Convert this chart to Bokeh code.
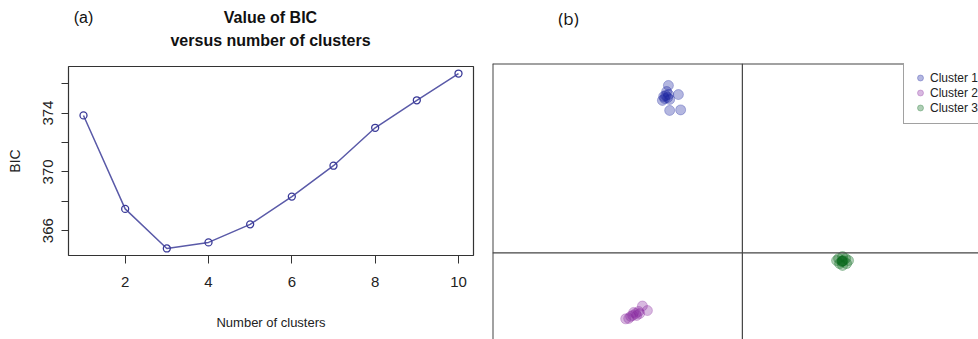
from bokeh.plotting import figure
from bokeh.layouts import row, column
from bokeh.models import (Range1d, FixedTicker, Span, Legend, LegendItem)
from bokeh.core.properties import value
from bokeh.embed import file_html
from bokeh.resources import INLINE

# ---- data ----
n_clusters = [1, 2, 3, 4, 5, 6, 7, 8, 9, 10]
bic = [373.84, 367.48, 364.79, 365.20, 366.43, 368.32, 370.42, 373.00, 374.87, 376.69]
x_ticks = [2, 4, 6, 8, 10]
y_ticks = [366, 368, 370, 372, 374, 376]
y_tick_labels = {366: "366", 368: "", 370: "370", 372: "", 374: "374", 376: ""}

c1_x = [-0.296, -0.256, -0.320, -0.291, -0.247, -0.307, -0.299, -0.311, -0.295, -0.303, -0.315, -0.291]
c1_y = [0.884, 0.836, 0.805, 0.752, 0.755, 0.831, 0.820, 0.815, 0.836, 0.852, 0.826, 0.810]
c2_x = [-0.467, -0.400, -0.380, -0.427, -0.439, -0.415, -0.447, -0.423, -0.435, -0.411, -0.455]
c2_y = [-0.349, -0.281, -0.305, -0.321, -0.331, -0.310, -0.336, -0.331, -0.315, -0.321, -0.347]
c3_x = [0.400, 0.377, 0.425, 0.401, 0.401, 0.385, 0.417, 0.389, 0.413, 0.400, 0.398, 0.404]
c3_y = [-0.044, -0.041, -0.041, -0.020, -0.067, -0.030, -0.057, -0.057, -0.030, -0.044, -0.046, -0.042]
cluster_names = ["Cluster 1", "Cluster 2", "Cluster 3"]
cluster_colors = ["#1A23A0", "#8A2BA0", "#0B6B1E"]

SANS = "Liberation Sans"
W, H = 978, 339
HEAD = 48

# ---- header band (panel letters and title) ----
hd = figure(width=W, height=HEAD, output_backend="svg", toolbar_location=None,
            x_range=Range1d(0, W), y_range=Range1d(HEAD, 0),
            x_axis_location=None, y_axis_location=None,
            min_border=0, min_border_left=0, min_border_right=0,
            min_border_top=0, min_border_bottom=0)
hd.grid.visible = False
hd.outline_line_color = None
hd.text(x=[83], y=[17], text=["(a)"], text_font=value(SANS), text_font_size="16px",
        text_align="center", text_baseline="middle", text_color="#111111")
hd.text(x=[270, 270], y=[17, 40], text=["Value of BIC", "versus number of clusters"],
        text_font=value(SANS), text_font_style="bold", text_font_size="16px",
        text_align="center", text_baseline="middle", text_color="#111111")
hd.text(x=[568], y=[18], text=["(b)"], text_font=value("Open Sans"), text_font_size="17px",
        text_align="center", text_baseline="middle", text_color="#111111")

# ---- panel (a) ----
pa = figure(width=490, height=H - HEAD, output_backend="svg", toolbar_location=None,
            x_range=Range1d(0.64, 10.36), y_range=Range1d(364.31, 377.17),
            min_border_left=68, min_border_right=17, min_border_top=18, min_border_bottom=84)
pa.grid.visible = False
pa.outline_line_color = "#333333"
pa.outline_line_width = 1.2

pa.line(n_clusters, bic, line_color="#5A5AA8", line_width=1.5)
pa.scatter(n_clusters, bic, size=7, marker="circle", fill_color=None,
           line_color="#3A3A98", line_width=1.3)

xa = pa.xaxis[0]
xa.ticker = FixedTicker(ticks=x_ticks)
xa.axis_line_color = None
xa.major_tick_out = 8
xa.major_tick_in = 0
xa.minor_tick_out = 0
xa.major_tick_line_color = "#333333"
xa.major_label_text_font = SANS
xa.major_label_text_font_size = "15px"
xa.major_label_text_color = "#222222"
xa.major_label_standoff = 13
xa.axis_label = "Number of clusters"
xa.axis_label_text_font = SANS
xa.axis_label_text_font_style = "normal"
xa.axis_label_text_font_size = "13px"
xa.axis_label_text_color = "#222222"
xa.axis_label_standoff = 25

ya = pa.yaxis[0]
ya.ticker = FixedTicker(ticks=y_ticks)
ya.major_label_overrides = y_tick_labels
ya.axis_line_color = None
ya.major_tick_out = 7
ya.major_tick_in = 0
ya.minor_tick_out = 0
ya.major_tick_line_color = "#333333"
ya.major_label_orientation = "vertical"
ya.major_label_text_font = SANS
ya.major_label_text_font_size = "15px"
ya.major_label_text_color = "#222222"
ya.major_label_standoff = 8
ya.axis_label = "BIC"
ya.axis_label_text_font = SANS
ya.axis_label_text_font_style = "normal"
ya.axis_label_text_font_size = "14px"
ya.axis_label_text_color = "#222222"
ya.axis_label_standoff = 18

# ---- panel (b) ----
pb = figure(width=W - 490, height=H - HEAD, output_backend="svg", toolbar_location=None,
            x_range=Range1d(-1.0, 0.945), y_range=Range1d(-0.458, 1.0),
            x_axis_location=None, y_axis_location=None,
            min_border_left=2, min_border_right=0, min_border_top=15, min_border_bottom=0)
pb.grid.visible = False
pb.outline_line_color = None

pb.add_layout(Span(location=0, dimension="height", line_color="#444444", line_width=1.2))
pb.add_layout(Span(location=0, dimension="width", line_color="#444444", line_width=1.2))
pb.add_layout(Span(location=1.0, dimension="width", line_color="#444444", line_width=2))
pb.add_layout(Span(location=-1.0, dimension="height", line_color="#444444", line_width=2))

renderers = []
for xs, ys, col in zip([c1_x, c2_x, c3_x], [c1_y, c2_y, c3_y], cluster_colors):
    r = pb.scatter(xs, ys, size=10, marker="circle", fill_color=col, fill_alpha=0.33,
                   line_color=col, line_alpha=0.3)
    renderers.append(r)

legend = Legend(items=[LegendItem(label=n, renderers=[r]) for n, r in zip(cluster_names, renderers)],
                location=(411, 215), orientation="vertical",
                padding=8, margin=0, spacing=0, glyph_width=16, glyph_height=15,
                label_height=15, label_standoff=2,
                label_text_font=SANS, label_text_font_size="12px",
                label_text_color="#222222",
                border_line_color="#444444", border_line_width=1.2,
                background_fill_color="white", background_fill_alpha=1.0)
pb.add_layout(legend)

layout = column(hd, row(column(pa), column(pb), spacing=0), spacing=0)
open("out.html", "w").write(file_html(layout, INLINE))
